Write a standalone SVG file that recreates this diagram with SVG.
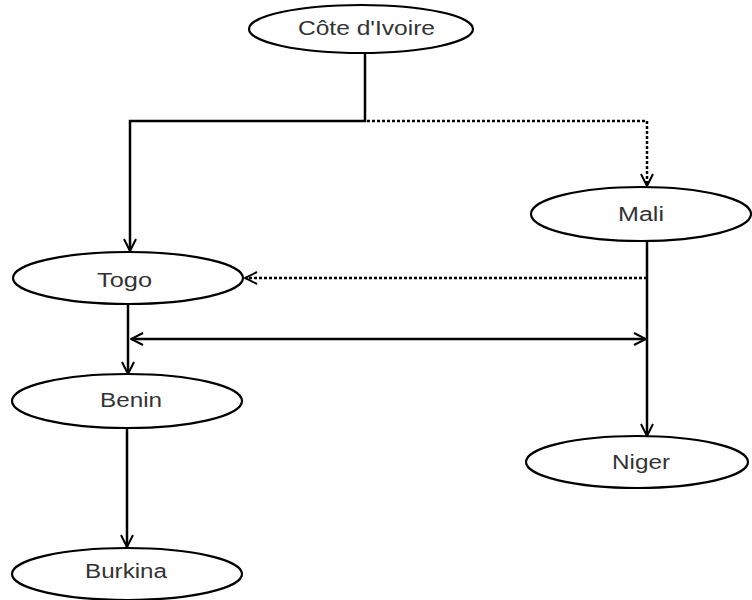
<svg xmlns="http://www.w3.org/2000/svg" width="752" height="600" viewBox="0 0 752 600">
<style>
.node ellipse{fill:#fff;stroke:#000;stroke-width:2.2}
.node text{font-family:"Liberation Sans",Arial,sans-serif;font-size:19.5px;fill:#333;text-anchor:middle}
.c{fill:none;stroke:#000;stroke-width:2.5}
.d{stroke-dasharray:3,2}
</style>
<defs>
<marker id="ah" viewBox="0 0 14 14" refX="13" refY="7" markerWidth="14" markerHeight="14" markerUnits="userSpaceOnUse" orient="auto-start-reverse">
<path d="M1,1 L13,7 L1,13" fill="none" stroke="#000" stroke-width="2"/>
</marker>
</defs>
<rect width="752" height="600" fill="#fff"/>
<g id="connectors">
<path class="c" d="M365,53 V121 H130 V251" marker-end="url(#ah)"/>
<path class="c d" d="M367,121 H647 V186" marker-end="url(#ah)"/>
<path class="c d" d="M647,278 H245" marker-end="url(#ah)"/>
<path class="c" d="M647,242 V436" marker-end="url(#ah)"/>
<path class="c" d="M128,304 V374" marker-end="url(#ah)"/>
<path class="c" d="M131,339 H646" marker-start="url(#ah)" marker-end="url(#ah)"/>
<path class="c" d="M127,428 V547" marker-end="url(#ah)"/>
</g>
<g id="cote" class="node"><ellipse cx="361" cy="29" rx="112" ry="24"/><text x="366.5" y="35" textLength="137" lengthAdjust="spacingAndGlyphs">Côte d'Ivoire</text></g>
<g id="togo" class="node"><ellipse cx="128" cy="278" rx="115" ry="26"/><text x="124.5" y="287" textLength="55" lengthAdjust="spacingAndGlyphs">Togo</text></g>
<g id="mali" class="node"><ellipse cx="641" cy="214" rx="110" ry="27"/><text x="641" y="221" textLength="46" lengthAdjust="spacingAndGlyphs">Mali</text></g>
<g id="niger" class="node"><ellipse cx="637" cy="462" rx="111" ry="26"/><text x="641" y="469" textLength="58" lengthAdjust="spacingAndGlyphs">Niger</text></g>
<g id="benin" class="node"><ellipse cx="127" cy="401" rx="115" ry="27"/><text x="131" y="407" textLength="62" lengthAdjust="spacingAndGlyphs">Benin</text></g>
<g id="burkina" class="node"><ellipse cx="127" cy="574" rx="115" ry="26"/><text x="126" y="578" textLength="82" lengthAdjust="spacingAndGlyphs">Burkina</text></g>
</svg>
